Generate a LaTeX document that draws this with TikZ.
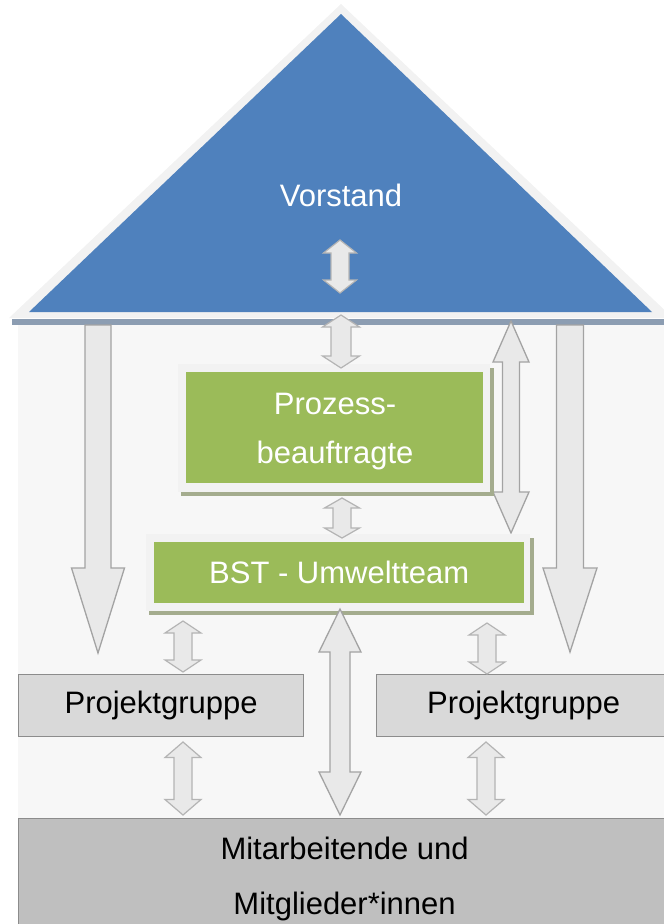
\documentclass[tikz,border=0pt]{standalone}
\usepackage{fontspec}
\setmainfont{Liberation Sans}
\definecolor{roofblue}{HTML}{4F81BD}
\definecolor{rooflight}{HTML}{F2F2F2}
\definecolor{roofshadow}{HTML}{8C9DB2}
\definecolor{bodyfill}{HTML}{F7F7F7}
\definecolor{arrfill}{HTML}{E9E9E9}
\definecolor{arrdraw}{HTML}{A3A3A3}
\definecolor{arrdrawlight}{HTML}{B4B4B4}
\definecolor{greenfill}{HTML}{9BBB59}
\definecolor{greenframe}{HTML}{F2F2F2}
\definecolor{greenshadow}{HTML}{A4AC8E}
\definecolor{projfill}{HTML}{D9D9D9}
\definecolor{mitfill}{HTML}{BFBFBF}
\definecolor{boxdraw}{HTML}{8C8C8C}
\newcommand{\dblarr}[7]{%
 \draw[#1] (#2,#3) -- (#2+#6,#3+#7) -- (#2+#5,#3+#7) -- (#2+#5,#4-#7) -- (#2+#6,#4-#7) -- (#2,#4) -- (#2-#6,#4-#7) -- (#2-#5,#4-#7) -- (#2-#5,#3+#7) -- (#2-#6,#3+#7) -- cycle;}
\newcommand{\downarr}[7]{%
 \draw[#1] (#2-#5,#3) -- (#2+#5,#3) -- (#2+#5,#4-#7) -- (#2+#6,#4-#7) -- (#2,#4) -- (#2-#6,#4-#7) -- (#2-#5,#4-#7) -- cycle;}
\begin{document}
\begin{tikzpicture}[x=1pt,y=-1pt,
  bigarr/.style={fill=arrfill,draw=arrdraw,line width=1.3pt},
  smallarr/.style={fill=arrfill,draw=arrdrawlight,line width=1.2pt},
  txt/.style={font=\fontsize{31}{36}\selectfont},
  plainbox/.style={rectangle,inner sep=0pt,anchor=north west},
  greenbox/.style={plainbox,fill=greenfill,draw=none,text=white,align=center},
  graybox/.style={plainbox,draw=boxdraw,line width=1.2pt,text=black,align=center}]
\useasboundingbox (0,0) rectangle (664,924);
% house body
\node[plainbox,fill=bodyfill,draw=none,minimum width=652pt,minimum height=493pt] (body) at (18,325) {};
% roof
\fill[roofshadow] (12,319) rectangle (672,325);
\fill[rooflight] (341,4) -- (673,318) -- (9,318) -- cycle;
\fill[roofblue] (341,14) -- (652,312) -- (29,312) -- cycle;
\node[txt,text=white] (vorstand) at (341,195) {Vorstand};
% big down arrows
\downarr{bigarr}{98}{325}{653}{13}{26.5}{85}
\downarr{bigarr}{570}{325}{652}{13.5}{27}{84}
% right long double arrow
\dblarr{bigarr}{511}{321}{533}{8.5}{18}{41}
% Prozessbeauftragte
\fill[greenshadow] (181,368) rectangle (494,496);
\fill[greenframe] (178,364) rectangle (490,492);
\node[greenbox,minimum width=297pt,minimum height=111pt] (pb) at (186,372) {};
\node[text=white,align=center,font=\fontsize{31}{49}\selectfont] (pbtext) at (335,432) {Prozess-\\beauftragte};
% BST
\fill[greenshadow] (149,538) rectangle (534,615);
\fill[greenframe] (146,534) rectangle (530,611);
\node[greenbox,minimum width=370pt,minimum height=61pt,txt] (bst) at (154,542) {BST - Umweltteam};
% Projektgruppen
\node[graybox,fill=projfill,minimum width=285pt,minimum height=62pt,txt] (pgl) at (18,674) {\raisebox{-2pt}{Projektgruppe}};
\node[graybox,fill=projfill,minimum width=294pt,minimum height=62pt,txt] (pgr) at (376,674) {\raisebox{-2pt}{Projektgruppe}};
% Mitarbeitende
\node[graybox,fill=mitfill,minimum width=652pt,minimum height=121pt,font=\fontsize{31}{55}\selectfont] (mit) at (18,818) {Mitarbeitende und\\Mitglieder*innen};
% small double arrows
\dblarr{smallarr}{340}{240}{293}{9}{16.5}{13}
\dblarr{smallarr}{341}{315}{368}{10}{18.5}{12}
\dblarr{smallarr}{342}{498}{538}{9}{17.5}{10}
\dblarr{smallarr}{183}{621}{672}{9}{18}{12}
\dblarr{smallarr}{487}{623}{674}{9}{18}{12}
\dblarr{smallarr}{183}{742}{815}{9}{18}{15.5}
\dblarr{smallarr}{486}{742}{815}{9}{18}{15.5}
% center long double arrow
\dblarr{bigarr}{340}{609}{815}{10}{21}{43}
\end{tikzpicture}
\end{document}
